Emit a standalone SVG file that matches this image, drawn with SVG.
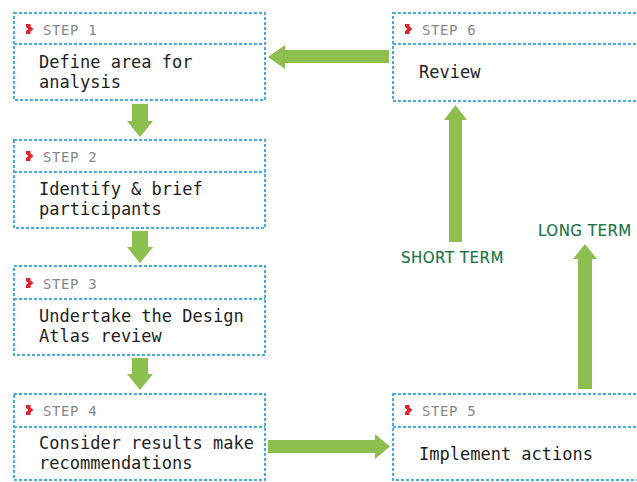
<svg xmlns="http://www.w3.org/2000/svg" width="637" height="482" viewBox="0 0 637 482">
  <defs>
    <style>
      .frame { fill: #ffffff; stroke: #45aedd; stroke-width: 2; stroke-dasharray: 3 2; }
      .rule { stroke: #45aedd; stroke-width: 2; stroke-dasharray: 3 2; fill: none; }
      .step { font-family: "DejaVu Sans Mono", "Liberation Mono", monospace; font-size: 14px; letter-spacing: 0.6px; fill: #888888; }
      .body { font-family: "DejaVu Sans Mono", "Liberation Mono", monospace; font-size: 17px; fill: #1e1e1e; }
      .mark { fill: #e0232d; }
      .arrow { fill: #8cbf4e; }
      .term { font-family: "DejaVu Sans", "Liberation Sans", sans-serif; font-size: 15px; letter-spacing: 0.5px; fill: #22754a; stroke: #22754a; stroke-width: 0.2px; }
    </style>
    <!-- blocky red chevron used before each step number -->
    <polygon id="chev" class="mark" points="0,0 4.5,0 4.5,2.5 7.5,5 4.5,7.5 4.5,10 0,10 0,7 2.4,5 0,3"/>
  </defs>

  <!-- step boxes -->
  <g id="step1">
    <rect class="frame" x="14" y="13" width="251" height="87"/>
    <line class="rule" x1="14" y1="44" x2="265" y2="44"/>
    <use href="#chev" x="26" y="24"/>
    <text class="step" x="43" y="35">STEP 1</text>
    <text class="body" x="39" y="68">Define area for</text>
    <text class="body" x="39" y="88">analysis</text>
  </g>

  <g id="step2">
    <rect class="frame" x="14" y="140" width="251" height="88"/>
    <line class="rule" x1="14" y1="172" x2="265" y2="172"/>
    <use href="#chev" x="26" y="151"/>
    <text class="step" x="43" y="162">STEP 2</text>
    <text class="body" x="39" y="195">Identify &amp; brief</text>
    <text class="body" x="39" y="215">participants</text>
  </g>

  <g id="step3">
    <rect class="frame" x="14" y="266" width="251" height="89"/>
    <line class="rule" x1="14" y1="299" x2="265" y2="299"/>
    <use href="#chev" x="26" y="278"/>
    <text class="step" x="43" y="289">STEP 3</text>
    <text class="body" x="39" y="322">Undertake the Design</text>
    <text class="body" x="39" y="342">Atlas review</text>
  </g>

  <g id="step4">
    <rect class="frame" x="14" y="394" width="251" height="86"/>
    <line class="rule" x1="14" y1="427" x2="265" y2="427"/>
    <use href="#chev" x="26" y="405"/>
    <text class="step" x="43" y="416">STEP 4</text>
    <text class="body" x="39" y="449">Consider results make</text>
    <text class="body" x="39" y="469">recommendations</text>
  </g>

  <g id="step5">
    <rect class="frame" x="393" y="394" width="260" height="86"/>
    <line class="rule" x1="393" y1="427" x2="637" y2="427"/>
    <use href="#chev" x="405" y="405"/>
    <text class="step" x="422" y="416">STEP 5</text>
    <text class="body" x="419" y="460">Implement actions</text>
  </g>

  <g id="step6">
    <rect class="frame" x="393" y="13" width="260" height="88"/>
    <line class="rule" x1="393" y1="44" x2="637" y2="44"/>
    <use href="#chev" x="405" y="24"/>
    <text class="step" x="422" y="35">STEP 6</text>
    <text class="body" x="419" y="78">Review</text>
  </g>

  <!-- connectors -->
  <g id="connectors">
    <polygon class="arrow" points="132,104 148,104 148,121 153,121 140,137 127,121 132,121"/>
    <polygon class="arrow" points="132,231 148,231 148,247 153,247 140,263 127,247 132,247"/>
    <polygon class="arrow" points="132,358 148,358 148,374 153,374 140,390 127,374 132,374"/>
    <polygon class="arrow" points="389,50 389,63 285,63 285,69 268,57 285,45 285,50"/>
    <polygon class="arrow" points="268,440 268,453 375,453 375,459 390,446.5 375,434 375,440"/>
    <polygon class="arrow" points="449,242 462,242 462,120 467,120 455.5,105 444,120 449,120"/>
    <polygon class="arrow" points="578,389 592,389 592,259 597,259 585,244 573,259 578,259"/>
  </g>

  <g id="labels">
    <text class="term" x="401" y="263">SHORT TERM</text>
    <text class="term" x="538" y="236">LONG TERM</text>
  </g>
</svg>
